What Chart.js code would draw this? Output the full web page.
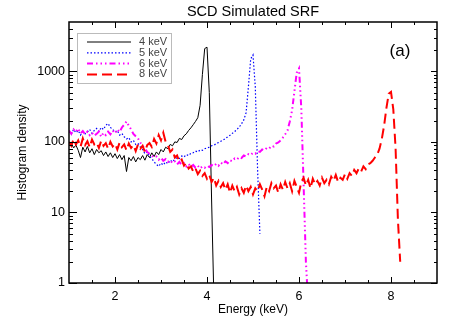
<!DOCTYPE html>
<html>
<head>
<meta charset="utf-8">
<script src="https://cdn.jsdelivr.net/npm/chart.js@4.4.1/dist/chart.umd.min.js"></script>
<style>
  html, body { margin: 0; padding: 0; background: #fff; }
  #chart { display: block; }
</style>
</head>
<body>
<canvas id="chart" width="458" height="327"></canvas>
<script>
// histogram bins: first bin centre and bin width (keV)
const binStart = 1.0;
const binWidth = 0.05;

const seriesNames = ['4 keV', '5 keV', '6 keV', '8 keV'];

// densities, one value per 0.05 keV bin, 10 bins per row
const density4 = [
  88, 95, 82, 90, 76, 60, 84, 72, 86, 70,
  80, 66, 78, 70, 75, 64, 72, 62, 70, 60,
  68, 58, 66, 56, 64, 38, 60, 54, 62, 52,
  60, 56, 64, 55, 66, 60, 70, 62, 72, 66,
  78, 72, 84, 80, 92, 88, 100, 98, 112, 108,
  122, 130, 145, 158, 175, 195, 220, 330, 900, 2100,
  2200, 500, 15, 0.6, 0.3
];
const density5 = [
  140, 128, 150, 135, 145, 125, 140, 130, 138, 150,
  132, 145, 155, 140, 160, 150, 172, 182, 160, 150,
  138, 145, 125, 132, 118, 110, 115, 100, 105, 92,
  95, 85, 78, 68, 72, 62, 58, 52, 48, 45,
  50, 47, 52, 49, 55, 52, 57, 60, 58, 63,
  61, 66, 64, 69, 70, 74, 72, 77, 76, 80,
  82, 84, 88, 90, 94, 98, 102, 106, 112, 118,
  124, 132, 140, 150, 162, 180, 205, 260, 600, 1500,
  1700, 600, 40, 5
];
const density6 = [
  145, 130, 150, 138, 155, 132, 142, 128, 140, 125,
  135, 122, 130, 140, 118, 135, 125, 140, 128, 145,
  132, 150, 138, 160, 175, 195, 170, 150, 130, 120,
  112, 98, 88, 80, 72, 68, 64, 60, 62, 56,
  60, 54, 57, 52, 55, 50, 53, 48, 52, 47,
  50, 45, 49, 44, 47, 43, 46, 42, 45, 43,
  46, 44, 47, 45, 49, 46, 51, 48, 53, 50,
  55, 53, 58, 56, 61, 59, 64, 62, 67, 65,
  70, 68, 74, 72, 78, 76, 82, 80, 88, 86,
  95, 98, 105, 115, 128, 145, 195, 280, 520, 950,
  1100, 300, 25, 2, 0.5
];
const density8 = [
  100, 88, 110, 92, 105, 85, 112, 90, 102, 84,
  108, 92, 98, 82, 104, 88, 96, 80, 100, 86,
  94, 78, 98, 84, 92, 76, 95, 82, 90, 74,
  92, 80, 88, 72, 90, 96, 85, 110, 95, 125,
  105, 135, 100, 90, 72, 78, 60, 64, 52, 56,
  46, 50, 42, 45, 38, 42, 35, 39, 33, 36,
  30, 34, 27, 31, 24, 28, 23, 26, 21, 25,
  19, 24, 20, 23, 18, 22, 19, 24, 20, 23,
  18, 22, 20, 25, 21, 17, 23, 20, 26, 22,
  24, 19, 25, 21, 27, 22, 26, 20, 28, 23,
  19, 27, 31, 24, 29, 22, 30, 25, 28, 24,
  31, 26, 29, 25, 32, 28, 34, 27, 31, 29,
  35, 30, 36, 33, 40, 36, 42, 38, 45, 41,
  48, 50, 54, 60, 66, 80, 110, 170, 300, 480,
  510, 290, 80, 8, 2
];

const xTickLabels = [2, 4, 6, 8];
const yTickLabels = [1, 10, 100, 1000];

const FONT = '"Liberation Sans", Arial, Helvetica, sans-serif';

function toPoints(values) {
  return values.map((v, i) => ({ x: +(binStart + i * binWidth).toFixed(2), y: v }));
}

// frame with inward ticks on all four sides, plus the legend box and panel tag
const framePlugin = {
  id: 'frame',
  afterDatasetsDraw(chart) {
    const { ctx, chartArea: a, scales: { x, y } } = chart;
    ctx.save();
    ctx.strokeStyle = '#000';
    ctx.lineWidth = 1;
    ctx.beginPath();
    for (let v = 1.5; v < x.max; v += 0.5) {
      const px = Math.round(x.getPixelForValue(v)) + 0.5;
      const len = xTickLabels.includes(v) ? 6 : 3;
      ctx.moveTo(px, a.bottom); ctx.lineTo(px, a.bottom - len);
      ctx.moveTo(px, a.top); ctx.lineTo(px, a.top + len);
    }
    for (let d = 1; d <= y.max; d *= 10) {
      for (let m = 1; m < 10; m++) {
        const v = d * m;
        if (v >= y.max) break;
        const py = Math.round(y.getPixelForValue(v)) + 0.5;
        ctx.moveTo(a.left, py); ctx.lineTo(a.left + (m === 1 ? 8 : 4), py);
        ctx.moveTo(a.right, py); ctx.lineTo(a.right - (m === 1 ? 6 : 3), py);
      }
    }
    ctx.stroke();
    ctx.lineWidth = 1.5;
    ctx.strokeRect(a.left, a.top, a.right - a.left, a.bottom - a.top);

    // legend
    const lx = a.left + 8, ly = a.top + 11;
    ctx.fillStyle = '#fff';
    ctx.fillRect(lx, ly, 94, 50);
    ctx.strokeStyle = '#bbb';
    ctx.lineWidth = 1;
    ctx.strokeRect(lx + 0.5, ly + 0.5, 94, 50);
    ctx.font = '11px ' + FONT;
    ctx.textBaseline = 'middle';
    chart.data.datasets.forEach((ds, i) => {
      const ry = ly + 9 + i * 10.8;
      ctx.save();
      ctx.strokeStyle = ds.borderColor;
      ctx.lineWidth = ds.borderWidth;
      ctx.setLineDash(ds.borderDash || []);
      ctx.beginPath();
      ctx.moveTo(lx + 10, ry);
      ctx.lineTo(lx + 54, ry);
      ctx.stroke();
      ctx.restore();
      ctx.fillStyle = '#444';
      ctx.fillText(ds.label, lx + 62, ry);
    });

    ctx.fillStyle = '#000';
    ctx.font = '17px ' + FONT;
    ctx.textAlign = 'center';
    ctx.fillText('(a)', a.right - 37, a.top + 29);
    ctx.restore();
  }
};

new Chart(document.getElementById('chart'), {
  type: 'line',
  data: {
    datasets: [
      {
        label: seriesNames[0],
        data: toPoints(density4),
        borderColor: '#000000',
        borderWidth: 1,
        order: 3,
      },
      {
        label: seriesNames[1],
        data: toPoints(density5),
        borderColor: '#0000ff',
        borderWidth: 1.2,
        borderDash: [1.5, 2],
        order: 2,
      },
      {
        label: seriesNames[2],
        data: toPoints(density6),
        borderColor: '#ff00ff',
        borderWidth: 2,
        borderDash: [6, 3, 1.5, 3, 1.5, 3, 1.5, 3],
        order: 1,
      },
      {
        label: seriesNames[3],
        data: toPoints(density8),
        borderColor: '#ff0000',
        borderWidth: 2,
        borderDash: [10, 5],
        order: 0,
      },
    ],
  },
  options: {
    responsive: false,
    animation: false,
    events: [],
    elements: { point: { radius: 0 }, line: { tension: 0 } },
    layout: { padding: { left: 0, right: 21, top: 0, bottom: 0 } },
    plugins: {
      legend: { display: false },
      tooltip: { enabled: false },
      title: {
        display: true,
        text: 'SCD Simulated SRF',
        fullSize: false,
        color: '#000',
        font: { family: FONT, size: 14.5, weight: 'normal' },
        padding: { top: 3, bottom: 1.6 },
      },
    },
    scales: {
      x: {
        type: 'linear',
        min: 1,
        max: 9,
        grid: { display: false, drawTicks: false },
        border: { display: false },
        afterBuildTicks: (scale) => { scale.ticks = xTickLabels.map((v) => ({ value: v })); },
        afterFit: (scale) => { scale.height = 44; },
        ticks: {
          color: '#000',
          padding: 6,
          maxRotation: 0,
          font: { family: FONT, size: 12.5 },
          callback: (v) => String(v),
        },
        title: {
          display: true,
          text: 'Energy (keV)',
          color: '#000',
          font: { family: FONT, size: 12 },
          padding: { top: 0, bottom: 10 },
        },
      },
      y: {
        type: 'logarithmic',
        min: 1,
        max: 5000,
        grid: { display: false, drawTicks: false },
        border: { display: false },
        afterBuildTicks: (scale) => { scale.ticks = yTickLabels.map((v) => ({ value: v })); },
        afterFit: (scale) => { scale.width = 69; },
        ticks: {
          color: '#000',
          padding: 4,
          font: { family: FONT, size: 12.5 },
          callback: (v) => String(v),
        },
        title: {
          display: true,
          text: 'Histogram density',
          color: '#000',
          font: { family: FONT, size: 12 },
          padding: { top: 15, bottom: 0 },
        },
      },
    },
  },
  plugins: [framePlugin],
});
</script>
</body>
</html>
